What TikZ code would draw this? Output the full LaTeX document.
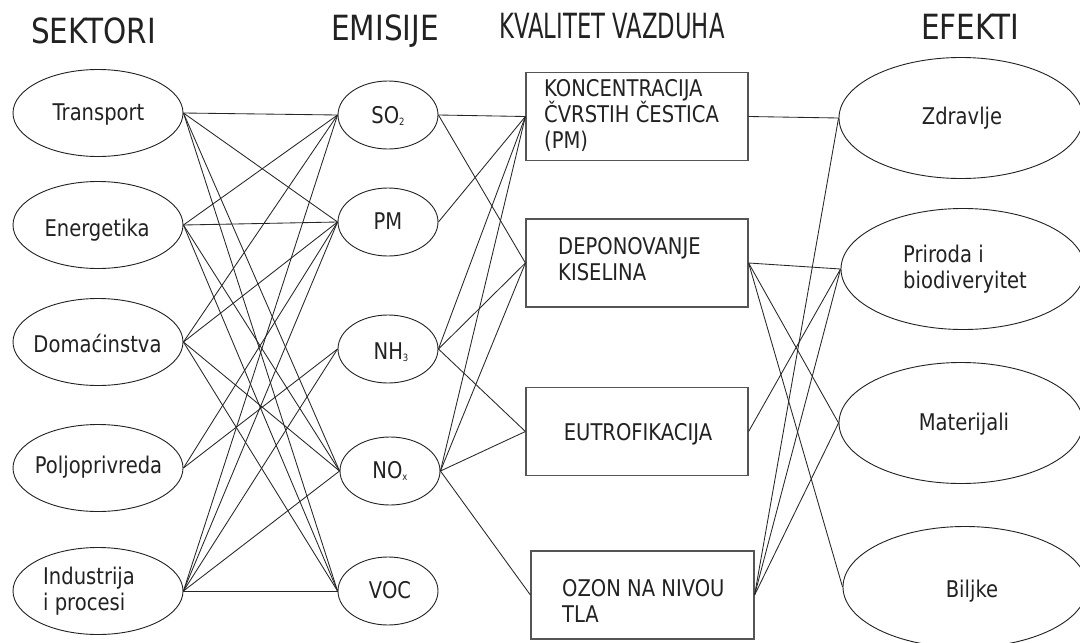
\documentclass[tikz,border=0pt]{standalone}
\usepackage{fontspec}
\setmainfont{DejaVu Sans}[FakeStretch=0.85]
\usetikzlibrary{shapes.geometric}
\definecolor{ink}{HTML}{222222}
\definecolor{edgec}{HTML}{262626}
\definecolor{boxline}{HTML}{555555}
\newcommand\bodyfs{\fontsize{23}{26}\selectfont}
\newcommand\titlefs{\fontsize{34.7}{40}\selectfont}
\newcommand\subsc[1]{\raisebox{-2.5pt}{\fontsize{10}{10}\selectfont #1}}
\tikzset{
  sect/.style={ellipse, draw=ink, line width=0.9pt, minimum width=170pt, minimum height=87pt, inner sep=0pt},
  emis/.style={ellipse, draw=ink, line width=0.9pt, minimum width=100pt, minimum height=68pt, inner sep=0pt},
  aq/.style={rectangle, draw=boxline, line width=1.2pt, minimum width=222pt, minimum height=88pt, inner sep=0pt},
  eff/.style={ellipse, draw=ink, line width=0.9pt, minimum width=244pt, minimum height=121pt, inner sep=0pt},
  lbl/.style={font=\bodyfs, text=ink, inner sep=0pt, anchor=base},
  lblL/.style={font=\bodyfs, text=ink, inner sep=0pt, align=left, anchor=north west},
  ttl/.style={font=\titlefs, text=ink, inner sep=0pt, anchor=base},
  conn/.style={draw=edgec, line width=0.85pt}
}
\begin{document}
\begin{tikzpicture}[x=1pt,y=-1pt]
\useasboundingbox (0,0) rectangle (1080,643);
\clip (0,0) rectangle (1080,643);
\fill[white] (0,0) rectangle (1080,643);

% titles
\node[ttl] (t1) at (93.5,43) {SEKTORI};
\node[ttl] (t2) at (385,40) {EMISIJE};
\node[ttl] (t3) at (612,38) {\scalebox{0.77}[1]{KVALITET VAZDUHA}};
\node[ttl] (t4) at (970,39) {EFEKTI};

% sectors
\node[sect] (tr) at (98,113) {};
\node[sect] (en) at (98,225) {};
\node[sect] (do) at (98,342) {};
\node[sect] (po) at (98,468) {};
\node[sect] (in) at (98,591) {};
\node[lbl] (trT) at (98.5,120) {Transport};
\node[lbl] (enT) at (97,236) {Energetika};
\node[lbl] (doT) at (97.5,352) {Domaćinstva};
\node[lbl] (poT) at (98.5,473) {Poljoprivreda};
\node[lblL] (inT) at (43,560) {\rule{0pt}{24pt}Industrija\\i procesi};

% emissions
\node[emis] (so) at (388,115) {};
\node[emis] (pm) at (388,222) {};
\node[emis] (nh) at (388,349) {};
\node[emis] (no) at (390,471) {};
\node[emis] (voc) at (388,591) {};
\node[lbl] (soT) at (388,123) {SO\subsc{2}};
\node[lbl] (pmT) at (388,229) {PM};
\node[lbl] (nhT) at (391,359) {NH\subsc{3}};
\node[lbl] (noT) at (390,478) {NO\subsc{x}};
\node[lbl] (vocT) at (390,598) {VOC};

% air quality boxes
\node[aq] (konc) at (637,116.5) {};
\node[aq] (dep) at (637,263) {};
\node[aq] (eut) at (637,431.5) {};
\node[aq, minimum width=223pt] (ozo) at (642.5,595) {};
\node[lblL] (koncT) at (544,72) {\rule{0pt}{24pt}KONCENTRACIJA\\ČVRSTIH ČESTICA\\(PM)};
\node[lblL] (depT) at (558,230) {\rule{0pt}{24pt}DEPONOVANJE\\KISELINA};
\node[lbl] (eutT) at (638,440) {EUTROFIKACIJA};
\node[lblL] (ozoT) at (562,572) {\rule{0pt}{24pt}OZON NA NIVOU\\TLA};

% effects
\node[eff] (zd) at (961,118) {};
\node[eff] (pr) at (963,269) {};
\node[eff] (ma) at (961,423) {};
\node[eff] (bi) at (965,587) {};
\node[lbl] (zdT) at (962,124) {Zdravlje};
\node[lblL] (prT) at (903,238) {\rule{0pt}{24pt}Priroda i\\biodiveryitet};
\node[lbl] (maT) at (964,430) {Materijali};
\node[lbl] (biT) at (972,597) {Biljke};

% sectors -> emissions
\foreach \a/\b in {tr/so, tr/pm, tr/no, tr/voc,
                   en/so, en/pm, en/no, en/voc,
                   do/so, do/pm, do/no, do/voc,
                   po/nh, po/pm,
                   in/so, in/pm, in/nh, in/no, in/voc}
  \draw[conn] (\a.east) -- (\b.west);

% emissions -> air quality
\foreach \a/\b in {so/konc, so/dep, pm/konc,
                   nh/konc, nh/dep, nh/eut,
                   no/konc, no/dep, no/eut, no/ozo}
  \draw[conn] (\a.east) -- (\b.west);

% air quality -> effects
\foreach \a/\b in {konc/zd, dep/pr, dep/ma, dep/bi, eut/pr,
                   ozo/zd, ozo/pr, ozo/ma}
  \draw[conn] (\a.east) -- (\b.west);
\end{tikzpicture}
\end{document}
